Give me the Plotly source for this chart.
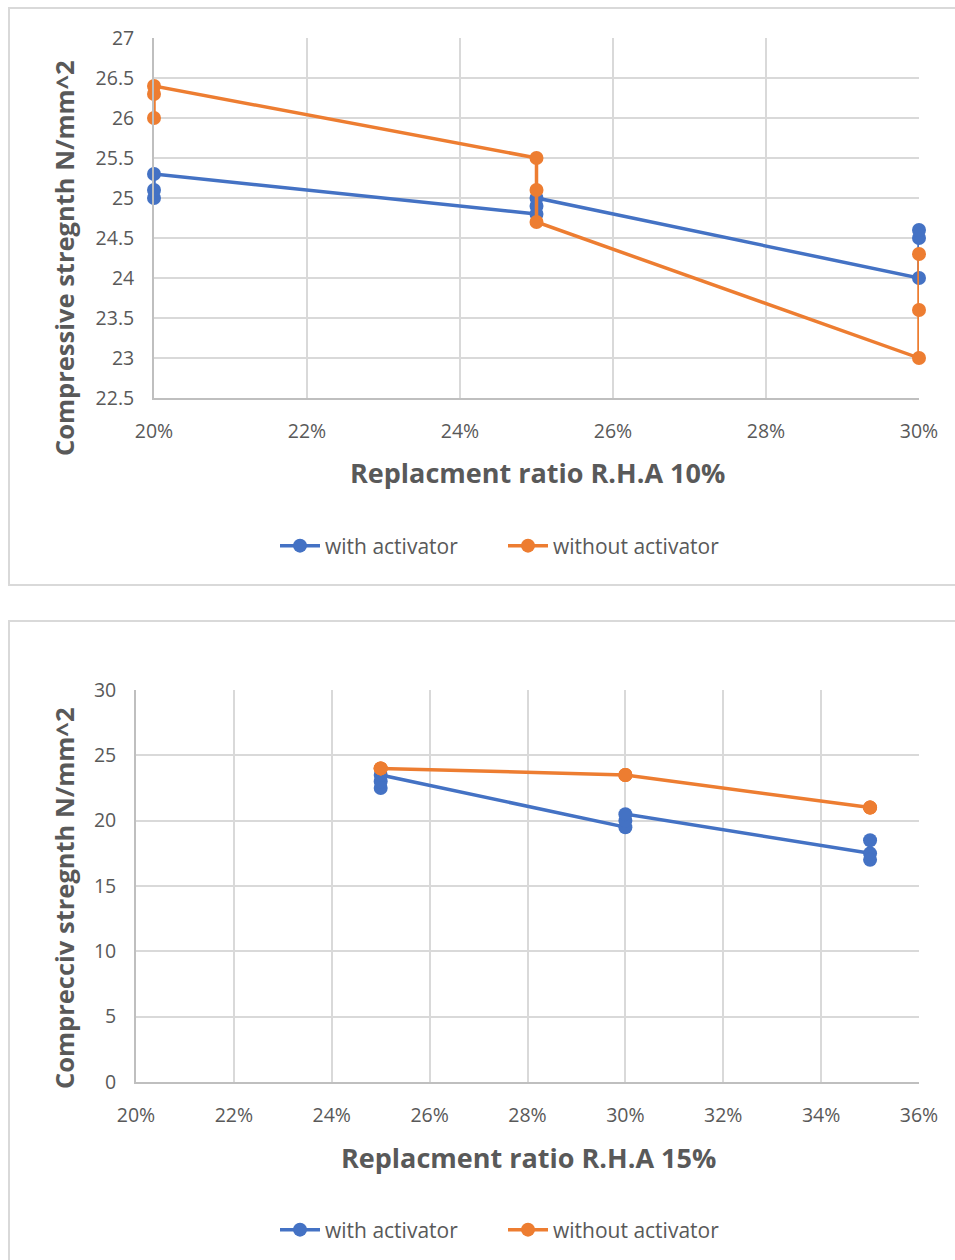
import plotly.graph_objects as go

# ---- data ----
top_x = [0.20, 0.20, 0.20, 0.25, 0.25, 0.25, 0.30, 0.30, 0.30]
top_with = [25.0, 25.1, 25.3, 24.8, 24.9, 25.0, 24.0, 24.5, 24.6]
top_without = [26.0, 26.3, 26.4, 25.5, 25.1, 24.7, 23.0, 23.6, 24.3]

bot_x = [0.25, 0.25, 0.25, 0.30, 0.30, 0.30, 0.35, 0.35, 0.35]
bot_with = [22.5, 23.0, 23.5, 19.5, 20.0, 20.5, 17.5, 17.0, 18.5]
bot_without = [24.0, 24.0, 24.0, 23.5, 23.5, 23.5, 21.0, 21.0, 21.0]

series_names = ["with activator", "without activator"]
top_title_x = "Replacment ratio R.H.A 10%"
top_title_y = "Compressive stregnth N/mm^2"
bot_title_x = "Replacment ratio R.H.A 15%"
bot_title_y = "Comprecciv stregnth N/mm^2"

BLUE = "#4472C4"
ORANGE = "#ED7D31"
TXT = "#595959"
GRID = "#d9d9d9"
FONT = "Open Sans"
W, H = 955, 1260


def px(xp):
    return xp / W


def py(yp):
    return 1 - yp / H


fig = go.Figure()

for y, name, color in [(top_with, series_names[0], BLUE), (top_without, series_names[1], ORANGE)]:
    fig.add_trace(go.Scatter(x=top_x, y=y, name=name, mode="lines+markers",
                             line=dict(color=color, width=3.5),
                             marker=dict(color=color, size=14),
                             xaxis="x", yaxis="y", legend="legend", cliponaxis=False))

for y, name, color in [(bot_with, series_names[0], BLUE), (bot_without, series_names[1], ORANGE)]:
    fig.add_trace(go.Scatter(x=bot_x, y=y, name=name, mode="lines+markers",
                             line=dict(color=color, width=3.5),
                             marker=dict(color=color, size=14),
                             xaxis="x2", yaxis="y2", legend="legend2", cliponaxis=False))

axis_common = dict(showgrid=True, gridcolor=GRID, gridwidth=1.5, zeroline=False,
                   showline=True, linecolor="#bfbfbf", linewidth=1.8, ticks="",
                   automargin=False,
                   tickfont=dict(family=FONT, size=19.5, color=TXT))

legend_common = dict(orientation="h", xanchor="left", yanchor="middle",
                     font=dict(family=FONT, size=21, color=TXT), bgcolor="rgba(0,0,0,0)",
                     itemwidth=40, entrywidth=173, entrywidthmode="pixels")

fig.update_layout(
    template="none",
    width=W, height=H,
    margin=dict(l=0, r=0, t=0, b=0, pad=0),
    paper_bgcolor="white", plot_bgcolor="white",
    font=dict(family=FONT, color=TXT),
    xaxis=dict(domain=[px(154), px(919)], anchor="y", range=[0.2, 0.3], dtick=0.02,
               tickformat=".0%", ticklabelstandoff=15, **axis_common),
    yaxis=dict(domain=[py(398), py(38)], anchor="x", range=[22.5, 27], dtick=0.5,
               ticklabelstandoff=14, **axis_common),
    xaxis2=dict(domain=[px(136), px(919)], anchor="y2", range=[0.2, 0.36], dtick=0.02,
                tickformat=".0%", ticklabelstandoff=15, **axis_common),
    yaxis2=dict(domain=[py(1082), py(690)], anchor="x2", range=[0, 30], dtick=5,
                ticklabelstandoff=14, **axis_common),
    legend=dict(x=px(275), y=py(546), **legend_common),
    legend2=dict(x=px(275), y=py(1230), **legend_common),
    shapes=[
        dict(type="rect", xref="paper", yref="paper", x0=px(9), x1=px(975), y0=py(585), y1=py(8),
             line=dict(color=GRID, width=2), layer="below"),
        dict(type="rect", xref="paper", yref="paper", x0=px(9), x1=px(975), y0=py(1280), y1=py(621),
             line=dict(color=GRID, width=2), layer="below"),
    ],
    annotations=[
        dict(text="<b>%s</b>" % top_title_x, xref="paper", yref="paper", x=px(537), y=py(472),
             showarrow=False, xanchor="center", yanchor="middle",
             font=dict(family=FONT, size=27, color=TXT)),
        dict(text="<b>%s</b>" % top_title_y, xref="paper", yref="paper", x=px(64), y=py(258),
             showarrow=False, xanchor="center", yanchor="middle", textangle=-90,
             font=dict(family=FONT, size=25.5, color=TXT)),
        dict(text="<b>%s</b>" % bot_title_x, xref="paper", yref="paper", x=px(528), y=py(1157),
             showarrow=False, xanchor="center", yanchor="middle",
             font=dict(family=FONT, size=27, color=TXT)),
        dict(text="<b>%s</b>" % bot_title_y, xref="paper", yref="paper", x=px(64), y=py(898),
             showarrow=False, xanchor="center", yanchor="middle", textangle=-90,
             font=dict(family=FONT, size=25.5, color=TXT)),
    ],
)

fig.write_html("out.html", config={"displayModeBar": False},
               post_script="document.body.style.margin='0';")
